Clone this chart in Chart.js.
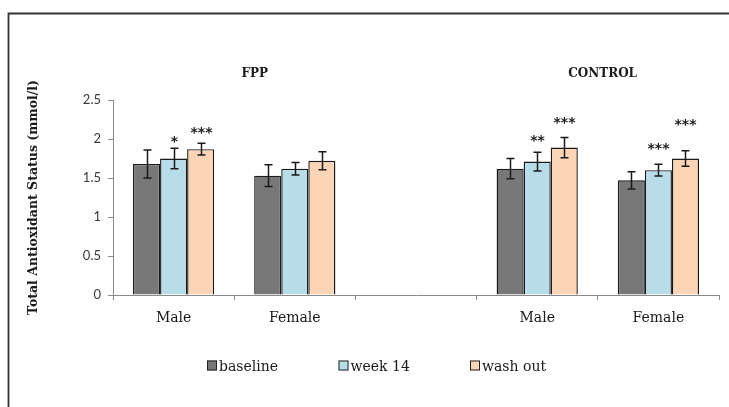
<!DOCTYPE html>
<html>
<head>
<meta charset="utf-8">
<script src="https://cdn.jsdelivr.net/npm/chart.js@4"></script>
<style>
  html, body { margin: 0; padding: 0; background: #fff; }
  #wrap { width: 729px; height: 407px; position: relative; }
</style>
</head>
<body>
<div id="wrap"><canvas id="c" width="729" height="407"></canvas></div>
<script>
// Total antioxidant status by group, sex and visit (mean ± error)
const categories = ['Male', 'Female', '', 'Male', 'Female'];
const groupTitles = ['FPP', 'CONTROL'];
const seriesNames = ['baseline', 'week 14', 'wash out'];

const baseline = [1.68, 1.53, null, 1.62, 1.47];
const week14   = [1.75, 1.62, null, 1.71, 1.60];
const washOut  = [1.87, 1.72, null, 1.89, 1.75];

const baselineErr = [0.18, 0.14, null, 0.13, 0.11];
const week14Err   = [0.13, 0.08, null, 0.12, 0.075];
const washOutErr  = [0.075, 0.115, null, 0.13, 0.10];

// significance marks versus baseline
const baselineSig = ['', '', '', '', ''];
const week14Sig   = ['*', '', '', '**', '***'];
const washOutSig  = ['***', '', '', '***', '***'];

const yTicks = [0, 0.5, 1, 1.5, 2, 2.5];

const serif = '"DejaVu Serif", "Liberation Serif", serif';
const colors = ['#787878', '#b7dde8', '#fbd5b5'];

// page frame, white background
const frame = {
  id: 'frame',
  beforeDraw(chart) {
    const { ctx, width, height } = chart;
    ctx.save();
    ctx.fillStyle = '#fff';
    ctx.fillRect(0, 0, width, height);
    ctx.strokeStyle = '#333';
    ctx.lineWidth = 1.8;
    ctx.beginPath();
    ctx.moveTo(8.5, height + 2);
    ctx.lineTo(8.5, 13.5);
    ctx.lineTo(width + 2, 13.5);
    ctx.stroke();
    ctx.restore();
  }
};

// error bars and significance marks
const errorBars = {
  id: 'errorBars',
  afterDatasetsDraw(chart, args, opts) {
    const { ctx } = chart;
    const y = chart.scales.y;
    ctx.save();
    chart.data.datasets.forEach((ds, i) => {
      const meta = chart.getDatasetMeta(i);
      meta.data.forEach((bar, j) => {
        const v = ds.data[j], e = ds.errors[j];
        if (v == null || e == null) return;
        const yt = y.getPixelForValue(v + e);
        const yb = y.getPixelForValue(v - e);
        const x = Math.round(bar.x) + 0.5;
        ctx.strokeStyle = opts.color;
        ctx.lineWidth = opts.width;
        ctx.beginPath();
        ctx.moveTo(x, yt); ctx.lineTo(x, yb);
        ctx.moveTo(x - opts.cap, yt); ctx.lineTo(x + opts.cap, yt);
        ctx.moveTo(x - opts.cap, yb); ctx.lineTo(x + opts.cap, yb);
        ctx.stroke();
        const s = ds.sig[j];
        if (s) {
          ctx.fillStyle = opts.color;
          ctx.font = opts.sigFont;
          ctx.textAlign = 'center';
          ctx.textBaseline = 'alphabetic';
          ctx.fillText(s, x, yt - opts.lift[i][j] + opts.sigBaseShift);
        }
      });
    });
    ctx.restore();
  }
};

// group headings over each pair of categories
const groupHeads = {
  id: 'groupHeads',
  afterDraw(chart, args, opts) {
    const { ctx } = chart;
    const x = chart.scales.x;
    ctx.save();
    ctx.fillStyle = '#1a1a1a';
    ctx.font = opts.font;
    ctx.textAlign = 'center';
    ctx.textBaseline = 'middle';
    groupTitles.forEach((t, k) => {
      ctx.fillText(t, x.getPixelForValue(opts.at[k]), opts.y);
    });
    ctx.restore();
  }
};

// legend row under the axis
const legendRow = {
  id: 'legendRow',
  afterDraw(chart, args, opts) {
    const { ctx } = chart;
    ctx.save();
    ctx.font = opts.font;
    ctx.textBaseline = 'alphabetic';
    ctx.textAlign = 'left';
    chart.data.datasets.forEach((ds, i) => {
      const bx = opts.x0 + i * opts.step;
      ctx.fillStyle = ds.backgroundColor;
      ctx.fillRect(bx, opts.y - opts.box / 2, opts.box, opts.box);
      ctx.strokeStyle = '#222';
      ctx.lineWidth = 1;
      ctx.strokeRect(bx + 0.5, opts.y - opts.box / 2 + 0.5, opts.box - 1, opts.box - 1);
      ctx.fillStyle = '#1a1a1a';
      ctx.fillText(ds.label, bx + opts.box + 2, opts.y + 5);
    });
    ctx.restore();
  }
};

const seriesValues = [baseline, week14, washOut];
const seriesErrors = [baselineErr, week14Err, washOutErr];
const seriesSig = [baselineSig, week14Sig, washOutSig];

new Chart(document.getElementById('c'), {
  type: 'bar',
  data: {
    labels: categories,
    datasets: seriesNames.map((name, i) => ({
      label: name,
      data: seriesValues[i],
      errors: seriesErrors[i],
      sig: seriesSig[i],
      backgroundColor: colors[i],
      borderColor: '#1a1a1a',
      borderWidth: 1.4,
      categoryPercentage: 0.67,
      barPercentage: 1.0
    }))
  },
  options: {
    responsive: false,
    animation: false,
    layout: { padding: { left: 8, right: 10, top: 100, bottom: 62 } },
    plugins: {
      legend: { display: false },
      tooltip: { enabled: false },
      errorBars: {
        color: '#1a1a1a', width: 1.5, cap: 4,
        sigFont: 'bold 14px "DejaVu Sans", sans-serif',
        sigBaseShift: 8,
        lift: [[0, 0, 0, 0, 0], [10.6, 0, 0, 15.7, 19], [14.7, 0, 0, 18.7, 30]]
      },
      groupHeads: { font: 'bold 12px ' + serif, at: [0.67, 3.54], y: 74 },
      legendRow: { font: '14px ' + serif, x0: 207, step: 131.5, y: 365.5, box: 10 }
    },
    scales: {
      x: {
        afterFit(scale) { scale.height = 50; },
        grid: { offset: true, drawOnChartArea: false, drawTicks: true, tickLength: 5, color: '#8a8a8a' },
        border: { color: '#8a8a8a', width: 1 },
        ticks: { font: { family: serif, size: 14 }, color: '#1a1a1a', padding: 10, maxRotation: 0 }
      },
      y: {
        min: 0, max: 2.5,
        afterFit(scale) { scale.width = 105; },
        afterBuildTicks(scale) { scale.ticks = yTicks.map(v => ({ value: v })); },
        grid: { drawOnChartArea: false, drawTicks: true, tickLength: 5, color: '#8a8a8a' },
        border: { color: '#8a8a8a', width: 1 },
        ticks: {
          font: { family: 'Lato, "Open Sans", sans-serif', size: 13 },
          color: '#3a3a3a', padding: 7,
          callback: v => String(v)
        },
        title: {
          display: true,
          text: 'Total Antioxidant Status (mmol/l)',
          font: { family: serif, size: 12.5, weight: 'bold' },
          color: '#1a1a1a',
          padding: { top: 18, bottom: 0 }
        }
      }
    }
  },
  plugins: [frame, errorBars, groupHeads, legendRow]
});
</script>
</body>
</html>
